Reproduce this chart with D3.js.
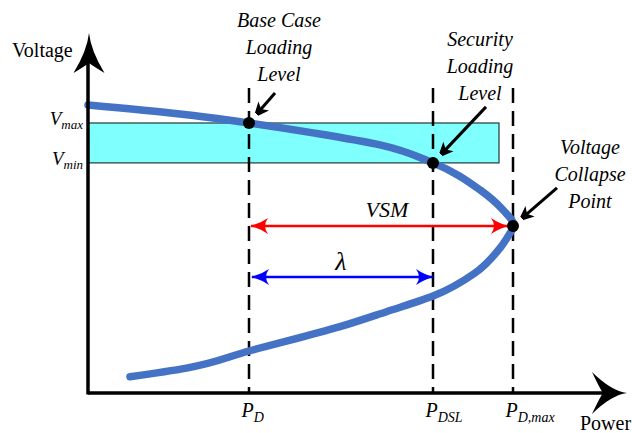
<!DOCTYPE html>
<html>
<head>
<meta charset="utf-8">
<script src="https://d3js.org/d3.v7.min.js"></script>
</head>
<body style="margin:0">
<div id="chart"></div>
<script>
// PV curve (nose curve), ordered by falling voltage
var curvePower   = [0, 18.4, 32.2, 45, 58.4, 69, 78.4, 83, 85.2, 84.4, 82.4, 77.4, 69, 59.7, 50.4, 32.2, 19.7, 8.4];
var curveVoltage = [0.96, 0.93, 0.9, 0.867, 0.827, 0.767, 0.677, 0.61, 0.557, 0.533, 0.483, 0.4, 0.323, 0.271, 0.221, 0.14, 0.083, 0.054];

// loading levels on the power axis
var levelSubs    = ["D", "DSL", "D,max"];
var levelPower   = [32.2, 69, 85];
var levelVoltage = [0.9, 0.767, 0.557];   // operating points on the curve

// voltage band
var bandVoltage = [0.767, 0.9];            // Vmin, Vmax
var bandSubs    = ["min", "max"];
var bandPower   = [0, 82.2];

// annotations
var annotLines = [["Base Case", "Loading", "Level"],
                  ["Security", "Loading", "Level"],
                  ["Voltage", "Collapse", "Point"]];

// margins
var vsmVoltage = 0.557;
var lambdaVoltage = 0.387;

var svgWidth = 632;
var svgHeight = 433;

var svg = d3.select("#chart")
  .append("svg")
  .attr("width", svgWidth)
  .attr("height", svgHeight);

var x = d3.scaleLinear().domain([0, 100]).range([88, 588]);
var y = d3.scaleLinear().domain([0, 1.2]).range([393, 33]);

var xEnd = 107.8, yEnd = 1.2, guideTop = 1.017;

var defs = svg.append("defs");

// barbed double arrow heads
function headMarker(id, color) {
  defs.append("marker")
    .attr("id", id)
    .attr("markerUnits", "userSpaceOnUse")
    .attr("viewBox", "-20 -10 22 20")
    .attr("markerWidth", 22).attr("markerHeight", 20)
    .attr("refX", 0).attr("refY", 0)
    .attr("orient", "auto-start-reverse")
    .append("path")
    .attr("d", "M1,0 Q-8,-2 -17,-8 Q-11,0 -17,8 Q-8,2 1,0 Z")
    .attr("fill", color);
}
headMarker("headRed", "#ff0000");
headMarker("headBlue", "#0000ff");

defs.append("marker")
  .attr("id", "headBlack")
  .attr("markerUnits", "userSpaceOnUse")
  .attr("viewBox", "-20 -10 22 20")
  .attr("markerWidth", 22).attr("markerHeight", 20)
  .attr("refX", 0).attr("refY", 0)
  .attr("orient", "auto")
  .append("path")
  .attr("d", "M7,0 L-9,-7 L-5,0 L-9,7 Z")
  .attr("fill", "#000");

// voltage band
svg.append("rect")
  .attr("x", x(bandPower[0]))
  .attr("y", y(bandVoltage[1]))
  .attr("width", x(bandPower[1]) - x(bandPower[0]))
  .attr("height", y(bandVoltage[0]) - y(bandVoltage[1]))
  .attr("fill", "#80ffff")
  .attr("stroke", "#203838")
  .attr("stroke-width", 1.2);

// dashed guides
svg.selectAll(".guide").data(levelPower)
  .enter().append("line")
  .attr("class", "guide")
  .attr("x1", d => x(d)).attr("x2", d => x(d))
  .attr("y1", y(guideTop)).attr("y2", y(0))
  .attr("stroke", "#000")
  .attr("stroke-width", 2.5)
  .attr("stroke-dasharray", "15,8");

// PV curve: power is a function of voltage, so interpolate along y
var pts = curvePower.map((p, i) => [p, curveVoltage[i]]);
var line = d3.line()
  .x(d => x(d[0]))
  .y(d => y(d[1]))
  .curve(d3.curveMonotoneY);

svg.append("path")
  .datum(pts)
  .attr("d", line)
  .attr("fill", "none")
  .attr("stroke", "#4472c4")
  .attr("stroke-width", 7.5)
  .attr("stroke-linecap", "round");

// axes
function axisHead(tx, ty, dx, dy, len, half, notch) {
  var px = -dy, py = dx;
  function p(a, b) { return (tx + dx * a + px * b) + "," + (ty + dy * a + py * b); }
  return "M" + p(0, 0) +
    " Q" + p(-len * 0.45, -2) + " " + p(-len, -half) +
    " Q" + p(-notch - 3, -4) + " " + p(-notch, 0) +
    " Q" + p(-notch - 3, 4) + " " + p(-len, half) +
    " Q" + p(-len * 0.45, 2) + " " + p(0, 0) + "Z";
}

svg.append("line")
  .attr("x1", x(0)).attr("x2", x(xEnd) - 20)
  .attr("y1", y(0)).attr("y2", y(0))
  .attr("stroke", "#000").attr("stroke-width", 3.5);
svg.append("line")
  .attr("x1", x(0)).attr("x2", x(0))
  .attr("y1", y(0) + 1.5).attr("y2", y(yEnd) + 20)
  .attr("stroke", "#000").attr("stroke-width", 3.5);
svg.append("path")
  .attr("d", axisHead(x(xEnd), y(0), 1, 0, 35, 21, 24))
  .attr("fill", "#000");
svg.append("path")
  .attr("d", axisHead(x(0) + 1, y(yEnd), 0, -1, 40, 15.5, 30))
  .attr("fill", "#000");

// all text goes in one group that carries the font
var labels = svg.append("g")
  .attr("font-family", "Liberation Serif")
  .attr("fill", "#000");

labels.append("text").attr("x", 12).attr("y", 57).attr("font-size", 20).text("Voltage");
labels.append("text").attr("x", 580).attr("y", 430).attr("font-size", 20).text("Power");

// Vmin / Vmax labels
labels.selectAll(".bandLab").data(bandVoltage)
  .enter().append("text")
  .attr("class", "bandLab")
  .attr("font-style", "italic")
  .attr("font-size", 19)
  .attr("text-anchor", "end")
  .attr("x", x(0) - 5)
  .attr("y", d => y(d) + 2)
  .each(function(d, i) {
    var t = d3.select(this);
    t.append("tspan").text("V");
    t.append("tspan").attr("font-size", 13).attr("dy", 4).text(bandSubs[i]);
  });

// P labels under the axis
labels.selectAll(".pLab").data(levelPower)
  .enter().append("text")
  .attr("class", "pLab")
  .attr("font-style", "italic")
  .attr("font-size", 20)
  .attr("x", d => x(d) - 7.5)
  .attr("y", 417)
  .each(function(d, i) {
    var t = d3.select(this);
    t.append("tspan").text("P");
    t.append("tspan").attr("font-size", 14).attr("dy", 5).text(levelSubs[i]);
  });

// margin arrows
svg.append("line")
  .attr("x1", x(levelPower[0]) + 2).attr("x2", x(levelPower[2]) - 5)
  .attr("y1", y(vsmVoltage)).attr("y2", y(vsmVoltage))
  .attr("stroke", "#ff0000").attr("stroke-width", 2.5)
  .attr("marker-start", "url(#headRed)")
  .attr("marker-end", "url(#headRed)");
labels.append("text")
  .attr("font-style", "italic")
  .attr("font-size", 22)
  .attr("text-anchor", "middle")
  .attr("x", (x(levelPower[0]) + x(levelPower[2])) / 2 + 6)
  .attr("y", y(vsmVoltage) - 9)
  .text("VSM");

svg.append("line")
  .attr("x1", x(levelPower[0]) + 3).attr("x2", x(levelPower[1]))
  .attr("y1", y(lambdaVoltage)).attr("y2", y(lambdaVoltage))
  .attr("stroke", "#0000ff").attr("stroke-width", 2.5)
  .attr("marker-start", "url(#headBlue)")
  .attr("marker-end", "url(#headBlue)");
labels.append("text")
  .attr("font-style", "italic")
  .attr("font-size", 26)
  .attr("text-anchor", "middle")
  .attr("x", (x(levelPower[0]) + x(levelPower[1])) / 2)
  .attr("y", y(lambdaVoltage) - 7)
  .text("λ");

// operating points
svg.selectAll(".pt").data(levelPower)
  .enter().append("circle")
  .attr("class", "pt")
  .attr("cx", d => x(d))
  .attr("cy", (d, i) => y(levelVoltage[i]))
  .attr("r", 6)
  .attr("fill", "#000");

// annotation arrows and labels
var arrowFrom = [[26, -30], [53, -56], [44, -38]];
var labelAt = [[30, -96], [47, -117], [77, -72]];

levelPower.forEach((p, i) => {
  var cx = x(p), cy = y(levelVoltage[i]);
  var dx = arrowFrom[i][0], dy = arrowFrom[i][1];
  var L = Math.sqrt(dx * dx + dy * dy);
  var ux = dx / L, uy = dy / L;
  var tip = 6.5;
  // line ends 7px before the tip so the head covers it
  svg.append("line")
    .attr("x1", cx + dx).attr("y1", cy + dy)
    .attr("x2", cx + ux * (tip + 7)).attr("y2", cy + uy * (tip + 7))
    .attr("stroke", "#000").attr("stroke-width", 3)
    .attr("marker-end", "url(#headBlack)");

  annotLines[i].forEach((s, k) => {
    labels.append("text")
      .attr("font-style", "italic")
      .attr("font-size", 20)
      .attr("text-anchor", "middle")
      .attr("x", cx + labelAt[i][0])
      .attr("y", cy + labelAt[i][1] + k * 27)
      .text(s);
  });
});
</script>
</body>
</html>
